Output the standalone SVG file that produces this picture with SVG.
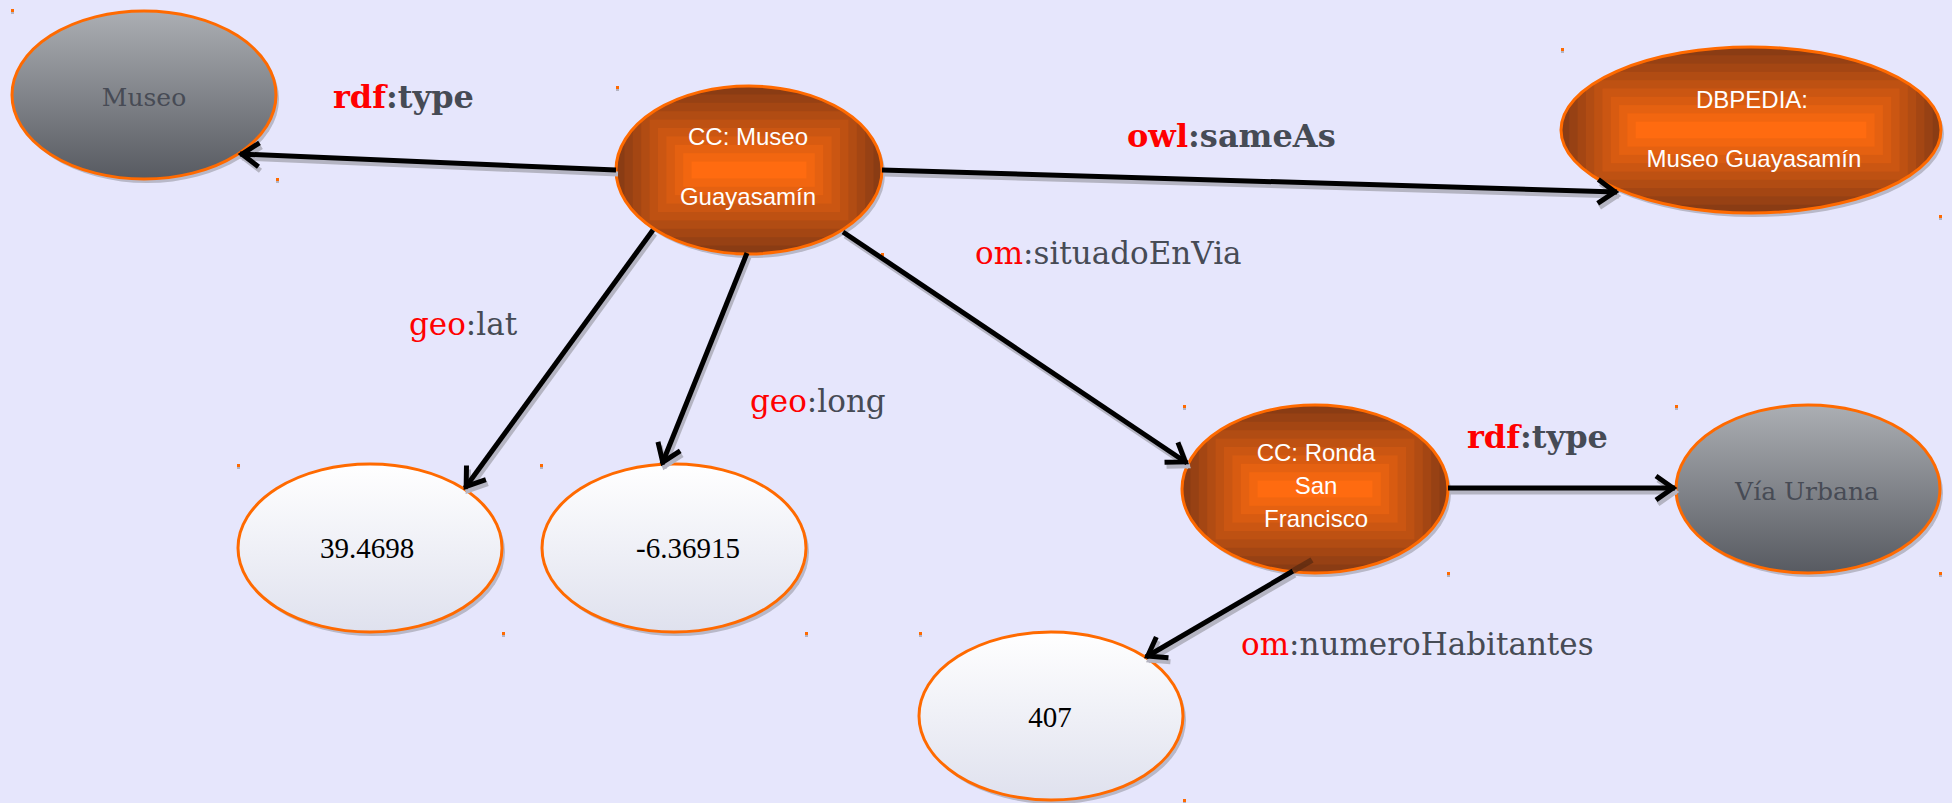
<svg xmlns="http://www.w3.org/2000/svg" xmlns:xlink="http://www.w3.org/1999/xlink" width="1952" height="803" viewBox="0 0 1952 803">
<style>
.sh{fill:#b8b8c8}
.gray{fill:url(#gGray);stroke:#ff6a00;stroke-width:3}
.white{fill:url(#gWhite);stroke:#ff6a00;stroke-width:3}
.ostk{fill:none;stroke:#ff6a00;stroke-width:3}
.ot{font-family:"Liberation Sans",Arial,sans-serif;font-size:24px;fill:#ffffff;text-anchor:middle}
.gt{font-family:"DejaVu Serif",serif;font-size:25px;fill:#474b55;text-anchor:middle}
.nt{font-family:"Liberation Serif",serif;font-size:29px;fill:#000000;text-anchor:middle}
.lb{font-family:"DejaVu Serif",serif;font-size:31px;fill:#464b55}
.lbb{font-family:"DejaVu Serif",serif;font-size:32px;font-weight:bold;fill:#464b55}
.red{fill:#ff0000}
.edge{stroke:#000;stroke-width:5;fill:none;marker-end:url(#ah)}
.edsh{stroke:#b4b4c2;stroke-width:5;fill:none;marker-end:url(#ahs)}
.dot{fill:#ff6a00}
.dsh{fill:#b4b4c2}
.c0{fill:#8a3c14}.c1{fill:#974114}.c2{fill:#a44613}.c3{fill:#b14c13}.c4{fill:#be5112}
.c5{fill:#cb5612}.c6{fill:#d85b11}.c7{fill:#e56111}.c8{fill:#f26610}.c9{fill:#ff6b10}
</style>
<defs>
<linearGradient id="gGray" x1="0" y1="0" x2="0" y2="1">
<stop offset="0" stop-color="#abaeb3"/><stop offset="1" stop-color="#575a61"/>
</linearGradient>
<linearGradient id="gWhite" x1="0" y1="0" x2="0" y2="1">
<stop offset="0" stop-color="#ffffff"/><stop offset="1" stop-color="#dfe1ee"/>
</linearGradient>
<marker id="ah" viewBox="-24 -16 32 32" refX="0" refY="0" markerWidth="32" markerHeight="32" markerUnits="userSpaceOnUse" orient="auto">
<path d="M-19,-12 L-2,0 L-19,12" fill="none" stroke="#000" stroke-width="5"/>
</marker>
<marker id="ahs" viewBox="-24 -16 32 32" refX="0" refY="0" markerWidth="32" markerHeight="32" markerUnits="userSpaceOnUse" orient="auto">
<path d="M-19,-12 L-2,0 L-19,12" fill="none" stroke="#b4b4c2" stroke-width="5"/>
</marker>
<clipPath id="clip266"><ellipse cx="0" cy="0" rx="133" ry="84"/></clipPath>
<clipPath id="clip380"><ellipse cx="0" cy="0" rx="190" ry="83"/></clipPath>
<g id="og266" clip-path="url(#clip266)">
<rect class="c0" x="-133" y="-84" width="266" height="168"/>
<rect class="c1" x="-124.6" y="-75.6" width="249.2" height="151.2"/>
<rect class="c2" x="-116.2" y="-67.2" width="232.4" height="134.4"/>
<rect class="c3" x="-107.8" y="-58.8" width="215.6" height="117.6"/>
<rect class="c4" x="-99.4" y="-50.4" width="198.8" height="100.8"/>
<rect class="c5" x="-91" y="-42" width="182" height="84"/>
<rect class="c6" x="-82.6" y="-33.6" width="165.2" height="67.2"/>
<rect class="c7" x="-74.2" y="-25.2" width="148.4" height="50.4"/>
<rect class="c8" x="-65.8" y="-16.8" width="131.6" height="33.6"/>
<rect class="c9" x="-57.4" y="-8.4" width="114.8" height="16.8"/>
</g>
<g id="og380" clip-path="url(#clip380)">
<rect class="c0" x="-190" y="-83" width="380" height="166"/>
<rect class="c1" x="-181.7" y="-74.7" width="363.4" height="149.4"/>
<rect class="c2" x="-173.4" y="-66.4" width="346.8" height="132.8"/>
<rect class="c3" x="-165.1" y="-58.1" width="330.2" height="116.2"/>
<rect class="c4" x="-156.8" y="-49.8" width="313.6" height="99.6"/>
<rect class="c5" x="-148.5" y="-41.5" width="297" height="83"/>
<rect class="c6" x="-140.2" y="-33.2" width="280.4" height="66.4"/>
<rect class="c7" x="-131.9" y="-24.9" width="263.8" height="49.8"/>
<rect class="c8" x="-123.6" y="-16.6" width="247.2" height="33.2"/>
<rect class="c9" x="-115.3" y="-8.3" width="230.6" height="16.6"/>
</g>
<g id="dt"><rect class="dsh" x="0" y="3" width="3" height="2"/><rect class="dot" x="0" y="0" width="3" height="3"/></g>
</defs>
<rect x="0" y="0" width="1952" height="803" fill="#e6e6fc"/>

<g id="n-museo">
<ellipse class="sh" cx="147" cy="99" rx="132" ry="84"/>
<ellipse class="gray" cx="144" cy="95" rx="132" ry="84"/>
<text class="gt" x="144" y="106">Museo</text>
<use href="#dt" x="11" y="9"/><use href="#dt" x="276" y="178"/>
</g>

<g id="n-cc-museo">
<ellipse class="sh" cx="752" cy="174" rx="133" ry="84"/>
<use href="#og266" x="749" y="170"/>
<ellipse class="ostk" cx="749" cy="170" rx="133" ry="84"/>
<text class="ot" x="748" y="145">CC: Museo</text>
<text class="ot" x="748" y="205">Guayasamín</text>
<use href="#dt" x="616" y="86"/><use href="#dt" x="881" y="253"/>
</g>

<g id="n-dbpedia">
<ellipse class="sh" cx="1754" cy="134" rx="190" ry="83"/>
<use href="#og380" x="1751" y="130"/>
<ellipse class="ostk" cx="1751" cy="130" rx="190" ry="83"/>
<text class="ot" x="1752" y="108">DBPEDIA:</text>
<text class="ot" x="1754" y="167">Museo Guayasamín</text>
<use href="#dt" x="1561" y="48"/><use href="#dt" x="1939" y="215"/>
</g>

<g id="n-ronda">
<ellipse class="sh" cx="1318" cy="493" rx="133" ry="84"/>
<use href="#og266" x="1315" y="489"/>
<ellipse class="ostk" cx="1315" cy="489" rx="133" ry="84"/>
<text class="ot" x="1316" y="461">CC: Ronda</text>
<text class="ot" x="1316" y="494">San</text>
<text class="ot" x="1316" y="527">Francisco</text>
<use href="#dt" x="1183" y="405"/><use href="#dt" x="1447" y="572"/>
</g>

<g id="n-via">
<ellipse class="sh" cx="1811" cy="493" rx="132" ry="84"/>
<ellipse class="gray" cx="1808" cy="489" rx="132" ry="84"/>
<text class="gt" x="1807" y="500">Vía Urbana</text>
<use href="#dt" x="1675" y="405"/><use href="#dt" x="1939" y="572"/>
</g>

<g id="n-lat">
<ellipse class="sh" cx="373" cy="552" rx="132" ry="84"/>
<ellipse class="white" cx="370" cy="548" rx="132" ry="84"/>
<text class="nt" x="367" y="558">39.4698</text>
<use href="#dt" x="237" y="464"/><use href="#dt" x="502" y="632"/>
</g>

<g id="n-long">
<ellipse class="sh" cx="677" cy="552" rx="132" ry="84"/>
<ellipse class="white" cx="674" cy="548" rx="132" ry="84"/>
<text class="nt" x="688" y="558">-6.36915</text>
<use href="#dt" x="540" y="464"/><use href="#dt" x="805" y="632"/>
</g>

<g id="n-407">
<ellipse class="sh" cx="1054" cy="720" rx="132" ry="84"/>
<ellipse class="white" cx="1051" cy="716" rx="132" ry="84"/>
<text class="nt" x="1050" y="727">407</text>
<use href="#dt" x="919" y="632"/><use href="#dt" x="1183" y="799"/>
</g>

<g id="connectors">
<g transform="translate(2,4)">
<path class="edsh" d="M616,170 L240,154"/>
<path class="edsh" d="M882,170 L1617,192"/>
<path class="edsh" d="M653,230 L465,488"/>
<path class="edsh" d="M747,253 L662,464"/>
<path class="edsh" d="M843,232 L1187,463"/>
<path class="edsh" d="M1448,488 L1675,488"/>
<path class="edsh" d="M1293,571 L1146,657"/>
</g>
<path class="edge" d="M616,170 L240,154"/>
<path class="edge" d="M882,170 L1617,192"/>
<path class="edge" d="M653,230 L465,488"/>
<path class="edge" d="M747,253 L662,464"/>
<path class="edge" d="M843,232 L1187,463"/>
<path class="edge" d="M1448,488 L1675,488"/>
<path class="edge" d="M1293,571 L1146,657"/>
<path d="M1312,560 L1293,571" stroke="#5a2a10" stroke-opacity="0.75" stroke-width="6" fill="none"/>
</g>

<g id="labels">
<text class="lbb" x="333" y="108"><tspan class="red">rdf</tspan>:type</text>
<text class="lbb" x="1127" y="147"><tspan class="red">owl</tspan>:sameAs</text>
<text class="lb" x="409" y="335"><tspan class="red">geo</tspan>:lat</text>
<text class="lb" x="750" y="412"><tspan class="red">geo</tspan>:long</text>
<text class="lb" x="975" y="264"><tspan class="red">om</tspan>:situadoEnVia</text>
<text class="lbb" x="1467" y="448"><tspan class="red">rdf</tspan>:type</text>
<text class="lb" x="1241" y="655"><tspan class="red">om</tspan>:numeroHabitantes</text>
</g>
</svg>
